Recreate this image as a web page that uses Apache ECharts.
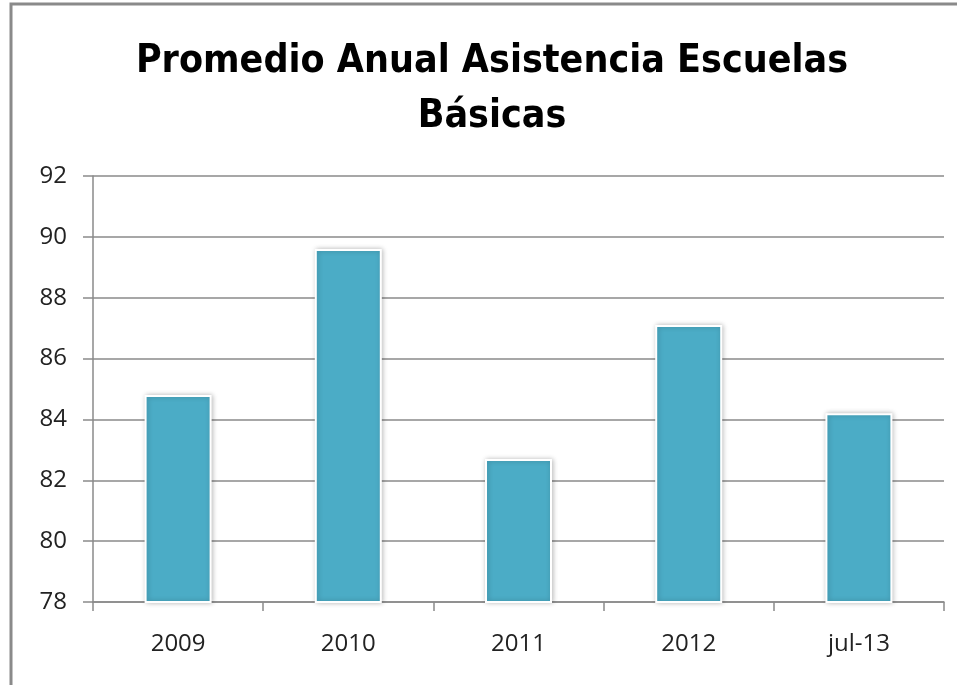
<!DOCTYPE html>
<html>
<head>
<meta charset="utf-8">
<script src="https://cdn.jsdelivr.net/npm/echarts@6/dist/echarts.min.js"></script>
<style>html,body{margin:0;padding:0;background:#fff}#c{width:957px;height:685px}</style>
</head>
<body>
<div id="c"></div>
<script>
const titleText = 'Promedio Anual Asistencia Escuelas\nBásicas';
const categories = ['2009', '2010', '2011', '2012', 'jul-13'];
const values = [84.8, 89.6, 82.7, 87.1, 84.2];
const yMin = 78, yMax = 92, yStep = 2;

const chart = echarts.init(document.getElementById('c'), null, {renderer: 'canvas'});
chart.setOption({
  backgroundColor: '#fff',
  animation: false,
  title: {
    text: titleText,
    left: 487,
    textAlign: 'center',
    top: 29,
    textStyle: {
      fontFamily: '"Liberation Sans Narrow", "DejaVu Sans Condensed", "Liberation Sans", sans-serif',
      fontWeight: 'bold',
      fontSize: 39,
      lineHeight: 55,
      color: '#000'
    }
  },
  graphic: [{
    type: 'polyline',
    shape: {points: [[11, 685], [11, 4], [957, 4]]},
    style: {stroke: '#8a8a8a', lineWidth: 3, fill: null}
  }],
  grid: {left: 93, right: 13, top: 176, bottom: 83, containLabel: false},
  xAxis: {
    type: 'category',
    data: categories,
    axisLine: {lineStyle: {color: '#8a8a8a', width: 1.5}},
    axisTick: {show: true, length: 9, lineStyle: {color: '#8a8a8a', width: 1.5}},
    axisLabel: {margin: 30, fontSize: 24, color: '#222', fontFamily: '"Open Sans", "Liberation Sans", sans-serif'}
  },
  yAxis: {
    type: 'value',
    min: yMin, max: yMax, interval: yStep,
    axisLine: {show: true, lineStyle: {color: '#8a8a8a', width: 1.5}},
    axisTick: {show: true, length: 10, lineStyle: {color: '#8a8a8a', width: 1.5}},
    splitLine: {show: true, lineStyle: {color: '#8a8a8a', width: 1.5}},
    axisLabel: {margin: 26, fontSize: 24, color: '#222', fontFamily: '"Open Sans", "Liberation Sans", sans-serif'}
  },
  series: [{
    type: 'bar',
    data: values,
    barWidth: 67,
    itemStyle: {
      color: '#4BACC6',
      borderColor: '#ffffff',
      borderWidth: 2,
      shadowBlur: 5,
      shadowColor: 'rgba(0,0,0,0.25)',
      shadowOffsetX: 1,
      shadowOffsetY: 0
    }
  }]
});
</script>
</body>
</html>
